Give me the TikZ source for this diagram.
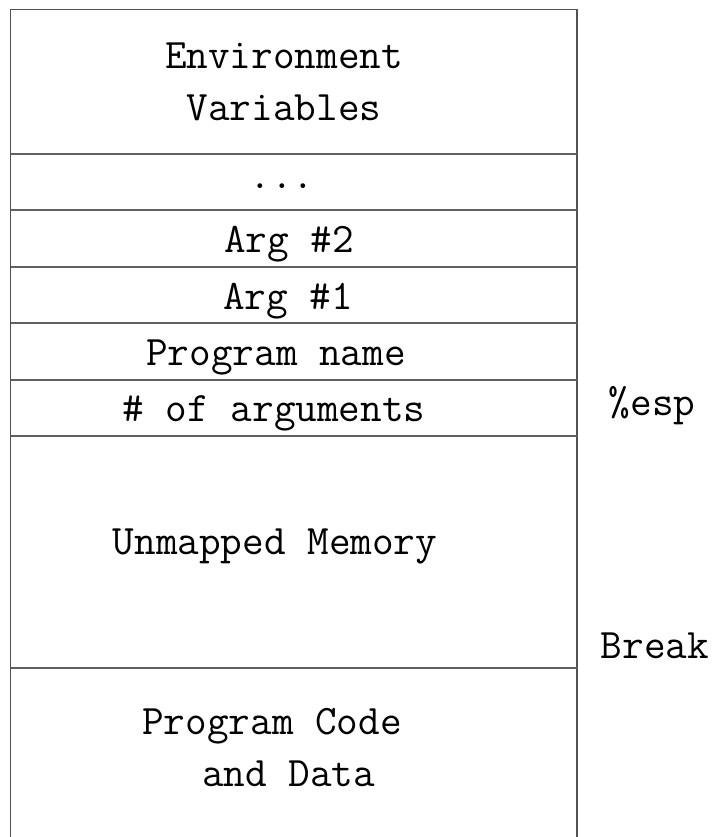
\documentclass[tikz,border=0pt]{standalone}
\begin{document}
\begin{tikzpicture}[x=1pt, y=-1pt, line width=1.5pt,
    every node/.style={align=center, inner sep=0pt, font=\ttfamily\fontsize{42}{52}\selectfont}]
    \useasboundingbox (0,0) rectangle (714,837);

    % outer frame, open at the bottom
    \draw[black!68] (10.5,837) -- (10.5,9.5) -- (577,9.5) -- (577,837);

    % row boundaries
    \foreach \y in {154,210,267,323,380,436,668}
        \draw[black!62] (10.5,\y) -- (577,\y);

    \node (env) at (284,81.5) {Environment\\Variables};
    \node[anchor=base] (dots) at (282,188) {...};
    \node[anchor=base] (arg2) at (289,252) {Arg \#2};
    \node[anchor=base] (arg1) at (288,309) {Arg \#1};
    \node[anchor=base] (pname) at (276,365) {Program name};
    \node[anchor=base] (argc) at (274,421) {\# of arguments};
    \node[anchor=base] (unmapped) at (275,554) {Unmapped Memory};
    \node[align=left] (code) at (272,748) {Program Code\\\hspace*{60pt}and Data};

    \node[anchor=base] (esp) at (652,415) {\%esp};
    \node[anchor=base] (brk) at (655,658) {Break};
\end{tikzpicture}
\end{document}
